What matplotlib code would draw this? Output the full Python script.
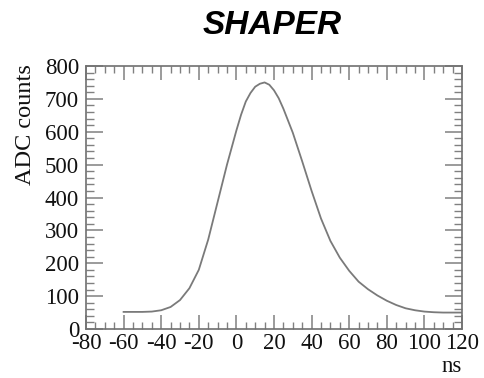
import matplotlib
matplotlib.use("Agg")
import matplotlib.pyplot as plt
from matplotlib.ticker import MultipleLocator

plt.rcParams["axes.unicode_minus"] = False

# Data
time_ns = [-60, -55, -50, -45, -40, -35, -30, -25, -20, -15, -10, -5, 0, 2.5, 5, 7.5,
           10, 12.5, 15, 17.5, 20, 22.5, 25, 30, 35, 40, 45, 50, 55, 60, 65, 70, 75,
           80, 85, 90, 95, 100, 105, 110, 115, 120]
adc_counts = [52, 52, 52, 53, 57, 67, 88, 124, 180, 272, 386, 500, 604, 652, 692, 718,
              737, 746, 750, 743, 726, 702, 670, 597, 510, 420, 336, 268, 217, 177, 144,
              121, 102, 86, 73, 63, 57, 53, 51, 50, 50, 50]

title_text = "SHAPER"
x_label = "ns"
y_label = "ADC counts"

W, H = 485, 378
fig = plt.figure(figsize=(W / 100, H / 100), dpi=100)
ax = fig.add_axes([86 / W, 1 - 329 / H, (462 - 86) / W, (329 - 66) / H])

ax.plot(time_ns, adc_counts, color="#7a7a7a", lw=1.3)

ax.set_xlim(-80, 120)
ax.set_ylim(0, 800)
ax.xaxis.set_major_locator(MultipleLocator(20))
ax.xaxis.set_minor_locator(MultipleLocator(5))
ax.yaxis.set_major_locator(MultipleLocator(100))
ax.yaxis.set_minor_locator(MultipleLocator(20))

tick_col = "#808080"
for s in ax.spines.values():
    s.set_color("#707070")
    s.set_linewidth(1.2)

ax.tick_params(axis="x", which="major", direction="in", length=10, width=1.1,
               color=tick_col, top=True, bottom=True, pad=3)
ax.tick_params(axis="x", which="minor", direction="in", length=5, width=1.0,
               color=tick_col, top=True, bottom=True)
ax.tick_params(axis="y", which="major", direction="in", length=12, width=1.1,
               color=tick_col, left=True, right=True, pad=5)
ax.tick_params(axis="y", which="minor", direction="in", length=5.5, width=1.0,
               color=tick_col, left=True, right=True)

for lab in ax.get_xticklabels() + ax.get_yticklabels():
    lab.set_fontfamily("Liberation Serif")
    lab.set_fontsize(16.5)
    lab.set_color("#111111")

fig.text(462 / W, 1 - 366 / H, x_label, ha="right", va="center",
         fontfamily="Liberation Serif", fontsize=16.5, color="#111111")
fig.text(26 / W, 1 - 64 / H, y_label, ha="center", va="top", rotation=90,
         fontfamily="Liberation Serif", fontsize=17.5, color="#111111")
fig.text(272 / W, 1 - 25 / H, title_text, ha="center", va="center",
         fontfamily="Liberation Sans", fontweight="bold", fontstyle="italic",
         fontsize=24, color="black")

fig.savefig("out.png", dpi=100)
